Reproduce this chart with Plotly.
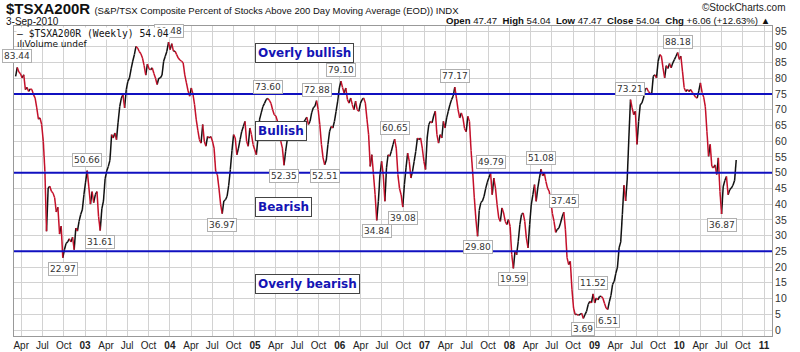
import pandas as pd
import plotly.graph_objects as go

END_DATE = "2010-09-03"

# weekly closes (Mar 2002 -> Sep 2010), in consecutive blocks
vals_a = [80.6, 83.44, 82.0, 81.4, 80.1, 81.1, 76.4, 77.1, 75.8, 76.6,
          76.4, 74.8, 73.7, 70.6, 67.0, 67.4, 65.3, 60.0, 50.4, 31.4,
          45.1, 45.7, 44.1, 43.5, 42.0, 37.5, 39.0, 30.5, 33.0, 22.97,
          25.5, 27.5, 28.0, 29.0, 28.0, 29.5, 25.5, 32.4, 31.4, 34.5,
          36.7, 38.2, 43.0, 47.0, 50.66, 45.5, 40.0, 44.0, 40.5, 43.0,
          44.0, 36.0, 31.61, 38.5, 41.0, 48.0, 50.5, 52.0, 54.0, 62.1,
          61.0, 62.6, 60.5, 66.0, 71.0, 73.7, 74.8, 70.6, 76.4, 79.0,
          80.1, 83.0, 85.4, 87.5, 90.1, 89.6, 88.5, 87.8, 86.4, 84.0,
          81.0, 84.5, 83.0, 82.7, 83.3, 81.5, 80.0, 78.0, 80.0, 80.1,
          81.0, 85.4]
vals_b = [87.0, 88.6, 91.48, 89.1, 91.0, 88.6, 88.6, 87.5, 86.4, 85.8,
          85.4, 84.9, 81.1, 78.5, 76.0, 74.3, 76.9, 75.0, 71.6, 67.0,
          63.5, 60.5, 59.4, 65.3, 60.0, 58.4, 61.5, 61.0, 61.5, 60.0,
          57.8, 50.4, 49.4, 45.1, 40.0, 36.97, 41.0, 41.4, 42.5, 46.0,
          51.0, 57.0, 62.1, 61.0, 55.7, 57.8, 60.5, 63.1, 64.7, 66.3,
          60.0, 58.4, 64.2, 62.1, 58.9, 57.3, 55.7, 61.0, 67.0, 69.0,
          71.0, 72.0, 73.2, 73.6, 73.0, 72.0, 70.0, 68.4, 68.0, 66.3,
          63.1, 60.0, 57.8, 52.35, 56.8, 60.5, 62.1, 63.1, 64.2, 65.3,
          65.3, 65.8, 65.8, 65.8, 65.0, 66.0, 66.8, 67.6, 65.3, 66.3,
          69.0, 70.6]
vals_c = [71.1, 72.88, 70.0, 65.3, 59.0, 54.7, 52.51, 54.0, 59.0, 63.1,
          64.7, 64.2, 66.3, 69.5, 72.7, 76.9, 79.1, 77.0, 75.3, 76.9,
          73.2, 72.1, 73.7, 71.6, 70.0, 72.7, 70.0, 69.5, 72.1, 73.2,
          73.7, 72.1, 67.0, 62.1, 52.0, 55.7, 49.4, 43.0, 34.84, 40.9,
          49.4, 53.6, 49.4, 40.9, 51.5, 55.7, 55.2, 56.8, 58.9, 60.65,
          57.8, 49.4, 45.0, 43.0, 39.08, 46.2, 51.5, 56.2, 53.6, 48.3,
          50.4, 53.6, 56.8, 61.0, 60.5, 61.0, 57.8, 53.6, 51.0, 61.0,
          65.3, 66.3, 65.8, 68.0, 69.5, 62.1, 59.4, 62.1, 61.0, 66.3,
          64.2, 67.4, 69.5, 71.6, 73.2, 74.3, 77.17, 73.7, 70.0, 67.4,
          69.0, 67.4]
vals_d = [64.0, 63.0, 67.9, 66.3, 57.0, 50.0, 42.0, 35.0, 29.8, 38.0,
          40.5, 41.0, 42.5, 45.0, 47.0, 48.5, 49.79, 43.0, 48.3, 45.1,
          39.8, 35.6, 34.5, 38.8, 37.2, 34.5, 33.5, 35.1, 32.9, 24.0,
          19.59, 25.0, 23.9, 28.2, 33.5, 36.7, 37.2, 34.5, 29.2, 26.1,
          33.5, 39.8, 43.0, 46.2, 40.9, 45.1, 48.3, 51.08, 49.0, 49.9,
          47.2, 45.1, 44.1, 41.0, 37.0, 34.5, 31.0, 32.0, 32.4, 34.0,
          36.0, 37.45, 32.0, 23.0, 20.8, 21.8, 13.0, 7.0, 4.9, 5.0,
          4.7, 5.0, 5.3, 3.69, 4.9, 5.9, 8.1, 9.1, 8.6, 11.52,
          8.6, 10.2, 9.6, 10.7, 10.7, 10.2, 8.5, 7.0, 6.51, 9.0,
          11.0, 14.5]
vals_e = [15.5, 18.0, 20.0, 26.1, 28.0, 36.7, 46.0, 41.0, 48.0, 61.0,
          73.21, 70.6, 68.4, 69.5, 59.0, 66.3, 71.6, 72.1, 73.7, 76.4,
          76.9, 75.8, 75.3, 74.8, 80.6, 81.1, 80.1, 85.4, 87.5, 87.0,
          83.3, 80.1, 84.0, 83.1, 84.7, 83.3, 84.9, 85.9, 87.0, 88.18,
          86.0, 87.0, 82.0, 77.0, 75.8, 76.4, 75.8, 76.4, 75.5, 74.8,
          74.0, 73.7, 76.0, 78.5, 75.5, 74.0, 71.0, 63.0, 55.2, 59.0,
          52.0, 51.5, 52.5, 49.4, 54.7, 44.0, 36.87, 45.5, 47.5, 48.8,
          43.0, 44.6, 45.1, 46.0, 47.47, 54.04]

peak_labels = [83.44, 50.66, 91.48, 73.6, 72.88, 79.1, 60.65, 77.17,
               49.79, 51.08, 37.45, 11.52, 73.21, 88.18]
trough_labels = [22.97, 31.61, 36.97, 52.35, 52.51, 34.84, 39.08, 29.8,
                 19.59, 3.69, 6.51, 36.87]

zone_levels = [75, 50, 25]
zone_names = ["Overly bullish", "Bullish", "Bearish", "Overly bearish"]
zone_text_y = [88.0, 63.3, 39.1, 14.6]
zone_text_x = "2005-01-01"

y_ticks = list(range(0, 100, 5))

values = vals_a + vals_b + vals_c + vals_d + vals_e
dates = pd.date_range(end=END_DATE, periods=len(values), freq="7D")

# split into up (black) and down (red) segments
up_x, up_y, dn_x, dn_y = [], [], [], []
for i in range(len(values) - 1):
    if values[i + 1] < values[i]:
        dn_x += [dates[i], dates[i + 1], None]
        dn_y += [values[i], values[i + 1], None]
    else:
        up_x += [dates[i], dates[i + 1], None]
        up_y += [values[i], values[i + 1], None]

fig = go.Figure()
fig.add_trace(go.Scatter(x=up_x, y=up_y, mode="lines",
                         line=dict(color="#111111", width=1.5), hoverinfo="skip"))
fig.add_trace(go.Scatter(x=dn_x, y=dn_y, mode="lines",
                         line=dict(color="#c4102a", width=1.5), hoverinfo="skip"))

for lv in zone_levels:
    fig.add_shape(type="line", xref="paper", x0=0, x1=1, yref="y", y0=lv, y1=lv,
                  line=dict(color="#1010c0", width=2), layer="above")

# x ticks: quarters
tickvals, ticktext = [], []
for d in pd.date_range("2002-04-01", "2011-01-01", freq="QS"):
    tickvals.append(d)
    if d.month == 1:
        ticktext.append("<b>%02d</b>" % (d.year % 100))
    else:
        ticktext.append(d.strftime("%b"))

annotations = []
lab_font = dict(family="DejaVu Sans", size=9, color="#333333")
for v in peak_labels:
    i = values.index(v)
    annotations.append(dict(x=dates[i], y=v, text="%.2f" % v, showarrow=False,
                            yanchor="bottom", yshift=4, font=lab_font,
                            bgcolor="white", bordercolor="#b0b0b0", borderwidth=1, borderpad=1))
for v in trough_labels:
    i = values.index(v)
    annotations.append(dict(x=dates[i], y=v, text="%.2f" % v, showarrow=False,
                            yanchor="top", yshift=-4, font=lab_font,
                            bgcolor="white", bordercolor="#b0b0b0", borderwidth=1, borderpad=1))

zone_font = dict(family="DejaVu Sans", size=12, color="#1414b4")
for name, yv in zip(zone_names, zone_text_y):
    annotations.append(dict(x=zone_text_x, y=yv, text="<b>%s</b>" % name, showarrow=False,
                            xanchor="left", font=zone_font,
                            bgcolor="white", borderpad=2, borderwidth=1, bordercolor="#444444"))

# legend text
annotations.append(dict(xref="paper", yref="paper", x=0.003, y=1.0 - 7 / 310, xanchor="left", yanchor="middle",
                        text="\u2014 $TSXA200R (Weekly) 54.04", showarrow=False,
                        font=dict(family="DejaVu Sans Mono", size=9.7, color="#111"),
                        bgcolor="white", borderpad=0))
annotations.append(dict(xref="paper", yref="paper", x=0.003, y=1.0 - 18 / 310, xanchor="left", yanchor="middle",
                        text="\u0131l\u0131Volume undef", showarrow=False,
                        font=dict(family="DejaVu Sans", size=9, color="#111"), borderpad=0))

# header
annotations.append(dict(xref="paper", yref="paper", x=-0.0135, y=1.0 + 17 / 310,
                        xanchor="left", yanchor="middle", showarrow=False,
                        text="<b>$TSXA200R</b> <span style='font-size:9.5px'>(S&P/TSX Composite Percent of Stocks Above 200 Day Moving Average (EOD)) INDX</span>",
                        font=dict(family="Liberation Sans", size=15, color="#111")))
annotations.append(dict(xref="paper", yref="paper", x=-0.0135, y=1.0 + 5 / 310,
                        xanchor="left", yanchor="middle", showarrow=False,
                        text="3-Sep-2010", font=dict(family="Liberation Sans", size=10, color="#111")))
annotations.append(dict(xref="paper", yref="paper", x=0.905, y=1.0 + 19 / 310,
                        xanchor="left", yanchor="middle", showarrow=False,
                        text="\u00a9StockCharts.com", font=dict(family="Liberation Sans", size=10, color="#222")))
annotations.append(dict(xref="paper", yref="paper", x=1.0, y=1.0 + 6 / 310,
                        xanchor="right", yanchor="middle", showarrow=False,
                        text="<b>Open</b> 47.47  <b>High</b> 54.04  <b>Low</b> 47.47  <b>Close</b> 54.04  <b>Chg</b> +6.06 (+12.63%) \u25b2",
                        font=dict(family="Liberation Sans", size=9.6, color="#111")))

fig.update_layout(
    width=800, height=352,
    margin=dict(l=14, r=28, t=26, b=16, autoexpand=False),
    paper_bgcolor="white", plot_bgcolor="white",
    showlegend=False,
    annotations=annotations,
    xaxis=dict(type="date", range=["2002-03-01", "2011-02-04"], automargin=False,
               tickmode="array", tickvals=tickvals, ticktext=ticktext,
               showgrid=True, gridcolor="#d2d2d2", gridwidth=1,
               showline=True, linecolor="#999999", mirror=True,
               ticks="", ticklen=0,
               tickfont=dict(family="Liberation Sans", size=10, color="#222"),
               zeroline=False, fixedrange=True),
    yaxis=dict(side="right", range=[-1.9, 96.6], tickmode="array", tickvals=y_ticks, automargin=False,
               showgrid=True, gridcolor="#d2d2d2", gridwidth=1,
               showline=True, linecolor="#999999", mirror=True,
               ticks="", tickfont=dict(family="Liberation Sans", size=10.5, color="#333"),
               zeroline=False, fixedrange=True),
)

fig.write_html("out.html")
